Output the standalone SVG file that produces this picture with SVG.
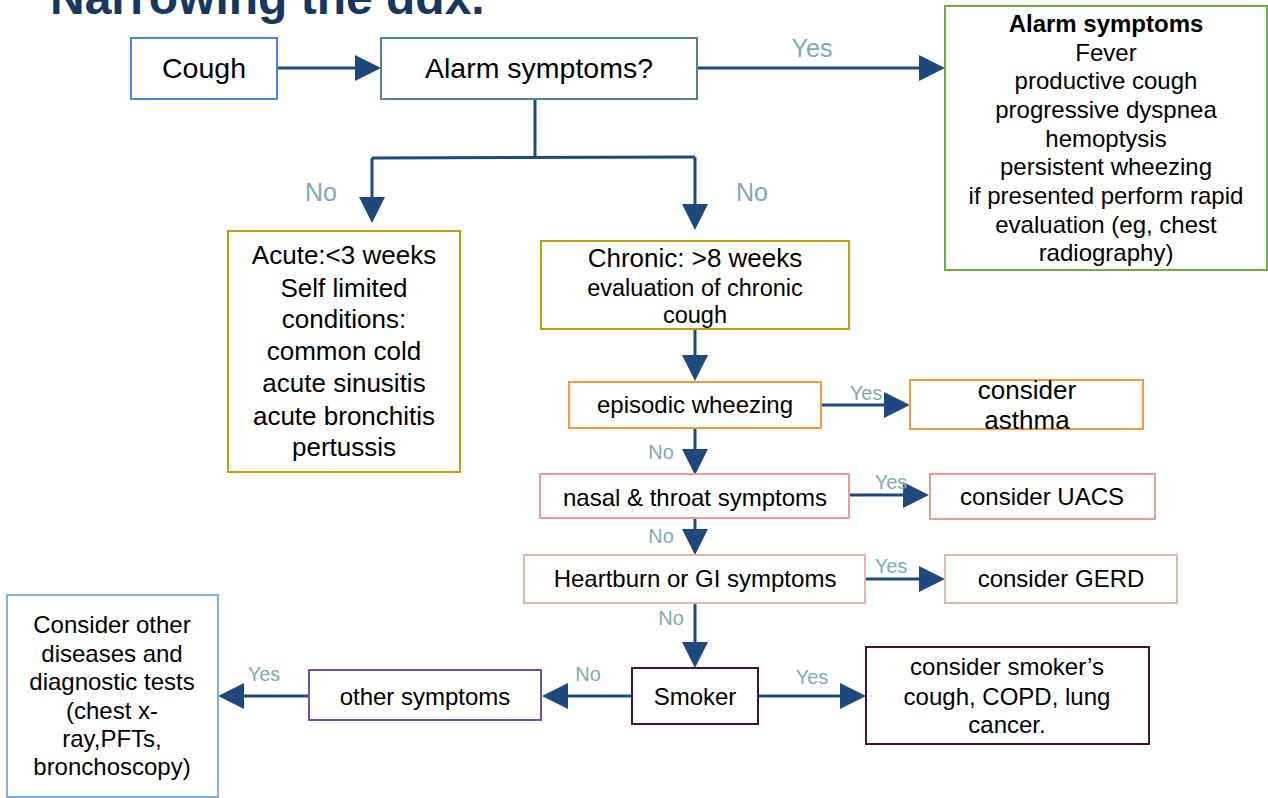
<svg xmlns="http://www.w3.org/2000/svg" width="1268" height="798" viewBox="0 0 1268 798">
<defs>
<style>
text{font-family:"Liberation Sans",Arial,sans-serif;fill:#000;text-anchor:middle}
.t24{font-size:24px}
.t26{font-size:26px}
.t28{font-size:28.5px}
.lbl{fill:#7eaab5}
.big{font-size:25px}
.sm{font-size:20px}
rect{fill:#fff;stroke-width:2}
.con{fill:none;stroke:#1f497d;stroke-width:3}
.arr{marker-end:url(#ah)}
</style>
<marker id="ah" markerUnits="userSpaceOnUse" markerWidth="26" markerHeight="26" refX="0" refY="13" orient="auto" overflow="visible">
<path d="M0,0 L26,13 L0,26 Z" fill="#1f497d"/>
</marker>
</defs>
<rect width="1268" height="798" style="fill:#fff;stroke:none"/>
<text x="50" y="14" style="font-size:48px;font-weight:bold;fill:#17375e;text-anchor:start">Narrowing the ddx.</text>

<g id="connectors">
<path class="con arr" d="M277,68 H355"/>
<path class="con arr" d="M697,68 H919"/>
<path class="con" d="M535,99 V157"/>
<path class="con" d="M372,158 L695,157"/>
<path class="con arr" d="M372,158 V197"/>
<path class="con arr" d="M695,157 V204"/>
<path class="con arr" d="M695,329 V355"/>
<path class="con arr" d="M695,428 V449"/>
<path class="con arr" d="M821,405 H884"/>
<path class="con arr" d="M849,495 H903"/>
<path class="con arr" d="M695,518 V529"/>
<path class="con arr" d="M865,579 H919"/>
<path class="con arr" d="M695,603 V642"/>
<path class="con arr" d="M758,696 H840"/>
<path class="con arr" d="M632,696 H568"/>
<path class="con arr" d="M309,696 H244"/>
<text class="lbl big" x="812" y="57">Yes</text>
<text class="lbl big" x="321" y="201">No</text>
<text class="lbl big" x="752" y="201">No</text>
<text class="lbl sm" x="866" y="400">Yes</text>
<text class="lbl sm" x="661" y="459">No</text>
<text class="lbl sm" x="891" y="489">Yes</text>
<text class="lbl sm" x="661" y="543">No</text>
<text class="lbl sm" x="891" y="573">Yes</text>
<text class="lbl sm" x="671" y="625">No</text>
<text class="lbl sm" x="812" y="684">Yes</text>
<text class="lbl sm" x="588" y="681">No</text>
<text class="lbl sm" x="264" y="681">Yes</text>
</g>

<g id="cough">
<rect x="131" y="38" width="146" height="61" style="stroke:#4a86e8"/>
<text class="t28" x="204" y="78">Cough</text>
</g>
<g id="alarm-question">
<rect x="381" y="38" width="316" height="61" style="stroke:#4e8590"/>
<text class="t28" x="539" y="78">Alarm symptoms?</text>
</g>
<g id="alarm-box">
<rect x="945" y="6" width="322" height="264" style="stroke:#70ad47"/>
<text class="t24" x="1106" y="32" style="font-weight:bold">Alarm symptoms</text>
<text class="t24" x="1106" y="61">Fever</text>
<text class="t24" x="1106" y="89">productive cough</text>
<text class="t24" x="1106" y="118">progressive dyspnea</text>
<text class="t24" x="1106" y="147">hemoptysis</text>
<text class="t24" x="1106" y="175">persistent wheezing</text>
<text class="t24" x="1106" y="204">if presented perform rapid</text>
<text class="t24" x="1106" y="233">evaluation (eg, chest</text>
<text class="t24" x="1106" y="261">radiography)</text>
</g>
<g id="acute">
<rect x="228" y="231" width="232" height="241" style="stroke:#c59a0e"/>
<text class="t26" x="344" y="264">Acute:&lt;3 weeks</text>
<text class="t26" x="344" y="297">Self limited</text>
<text class="t26" x="344" y="328">conditions:</text>
<text class="t26" x="344" y="360">common cold</text>
<text class="t26" x="344" y="392">acute sinusitis</text>
<text class="t26" x="344" y="425">acute bronchitis</text>
<text class="t26" x="344" y="456">pertussis</text>
</g>
<g id="chronic">
<rect x="541" y="241" width="308" height="88" style="stroke:#c59a0e"/>
<text class="t26" x="695" y="267">Chronic: &gt;8 weeks</text>
<text x="695" y="296" style="font-size:23.5px">evaluation of chronic</text>
<text x="695" y="323" style="font-size:23.5px">cough</text>
</g>
<g id="wheezing">
<rect x="569" y="382" width="252" height="46" style="stroke:#ee9a3f"/>
<text class="t24" x="695" y="413">episodic wheezing</text>
</g>
<g id="asthma">
<rect x="910" y="380" width="233" height="49" style="stroke:#ee9a3f"/>
<text class="t26" x="1027" y="399">consider</text>
<text class="t26" x="1027" y="429">asthma</text>
</g>
<g id="nasal">
<rect x="540" y="474" width="309" height="44" style="stroke:#e99a9a"/>
<text class="t24" x="695" y="506">nasal &amp; throat symptoms</text>
</g>
<g id="uacs">
<rect x="930" y="474" width="225" height="45" style="stroke:#e99a9a"/>
<text class="t24" x="1042" y="505">consider UACS</text>
</g>
<g id="heartburn">
<rect x="524" y="555" width="341" height="48" style="stroke:#e6b3aa"/>
<text class="t24" x="695" y="587">Heartburn or GI symptoms</text>
</g>
<g id="gerd">
<rect x="945" y="555" width="232" height="48" style="stroke:#e6b3aa"/>
<text class="t24" x="1061" y="587">consider GERD</text>
</g>
<g id="smoker">
<rect x="632" y="668" width="126" height="56" style="stroke:#4c1130"/>
<text class="t24" x="695" y="705">Smoker</text>
</g>
<g id="smoker-cough">
<rect x="866" y="647" width="283" height="97" style="stroke:#4c1130"/>
<text class="t24" x="1007" y="675">consider smoker’s</text>
<text class="t24" x="1007" y="705">cough, COPD, lung</text>
<text class="t24" x="1007" y="733">cancer.</text>
</g>
<g id="other-symptoms">
<rect x="309" y="670" width="232" height="50" style="stroke:#6e51b0"/>
<text class="t24" x="425" y="705">other symptoms</text>
</g>
<g id="consider-other">
<rect x="7" y="595" width="211" height="202" style="stroke:#7fb0e0"/>
<text class="t24" x="112" y="633">Consider other</text>
<text class="t24" x="112" y="662">diseases and</text>
<text class="t24" x="112" y="690">diagnostic tests</text>
<text class="t24" x="112" y="719">(chest x-</text>
<text class="t24" x="112" y="747">ray,PFTs,</text>
<text class="t24" x="112" y="775">bronchoscopy)</text>
</g>
</svg>
